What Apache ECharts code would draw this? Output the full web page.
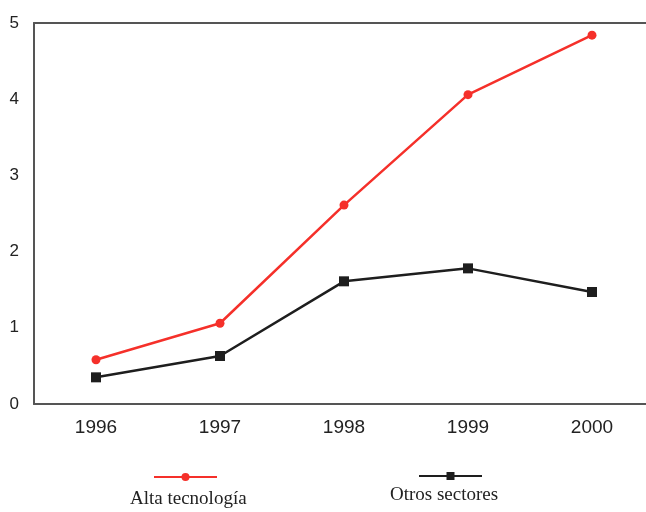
<!DOCTYPE html>
<html style="height: 100%; margin: 0;">
<head>
    <meta charset="utf-8" />
    <title></title>
    <script src="https://cdn.jsdelivr.net/npm/echarts@6/dist/echarts.min.js" type="text/javascript" charset="utf-8"></script>
</head>
<body style="height: 100%; margin: 0; background: #fff; overflow: hidden;">
<!-- a bit wider than the window: the frame in the scan runs off the right edge -->
<div id="main" style="width: 654px; height: 512px; padding: 0px; margin: 0px;"></div>
<script type="text/javascript">
    var years = ['1996', '1997', '1998', '1999', '2000'];
    var altaTecnologia = [0.58, 1.06, 2.61, 4.06, 4.84];
    var otrosSectores = [0.35, 0.63, 1.61, 1.78, 1.47];
    var yTicks = [0, 1, 2, 3, 4, 5];

    var myChart = echarts.init(document.getElementById('main'));
    myChart.setOption({
        animation: false,
        backgroundColor: '#fff',
        grid: {left: 34, right: 0, top: 23, bottom: 108},
        legend: [{
            data: ['Alta tecnología'],
            left: 148, top: 467,
            itemWidth: 63, itemHeight: 10,
            formatter: function () { return ''; }
        }, {
            data: ['Otros sectores'],
            left: 413, top: 466,
            itemWidth: 63, itemHeight: 10,
            formatter: function () { return ''; }
        }],
        graphic: [{
            type: 'text', left: 130, top: 490,
            style: {text: 'Alta tecnología', fill: '#222', font: '19px "Liberation Serif", serif'}
        }, {
            type: 'text', left: 390, top: 486,
            style: {text: 'Otros sectores', fill: '#222', font: '19px "Liberation Serif", serif'}
        }],
        xAxis: [{
            type: 'category',
            data: years,
            boundaryGap: true,
            axisLine: {lineStyle: {color: '#555', width: 2}},
            axisTick: {show: false},
            axisLabel: {color: '#222', fontSize: 19, fontFamily: 'Liberation Sans', margin: 14}
        }, {
            type: 'category',
            position: 'top',
            data: years,
            axisLine: {lineStyle: {color: '#555', width: 2}},
            axisTick: {show: false},
            axisLabel: {show: false}
        }],
        yAxis: {
            type: 'value',
            min: yTicks[0], max: yTicks[yTicks.length - 1], interval: 1,
            axisLine: {show: true, lineStyle: {color: '#555', width: 2}},
            axisTick: {show: false},
            splitLine: {show: false},
            axisLabel: {color: '#222', fontSize: 17, fontFamily: 'Liberation Sans', margin: 15}
        },
        series: [{
            name: 'Alta tecnología',
            type: 'line',
            data: altaTecnologia,
            symbol: 'circle', symbolSize: 9,
            itemStyle: {color: '#f5302a'},
            lineStyle: {color: '#f5302a', width: 2.5}
        }, {
            name: 'Otros sectores',
            type: 'line',
            data: otrosSectores,
            symbol: 'rect', symbolSize: 10,
            itemStyle: {color: '#1e1e1e'},
            lineStyle: {color: '#1e1e1e', width: 2.5}
        }]
    });
    window.onresize = myChart.resize;
</script>
</body>
</html>
